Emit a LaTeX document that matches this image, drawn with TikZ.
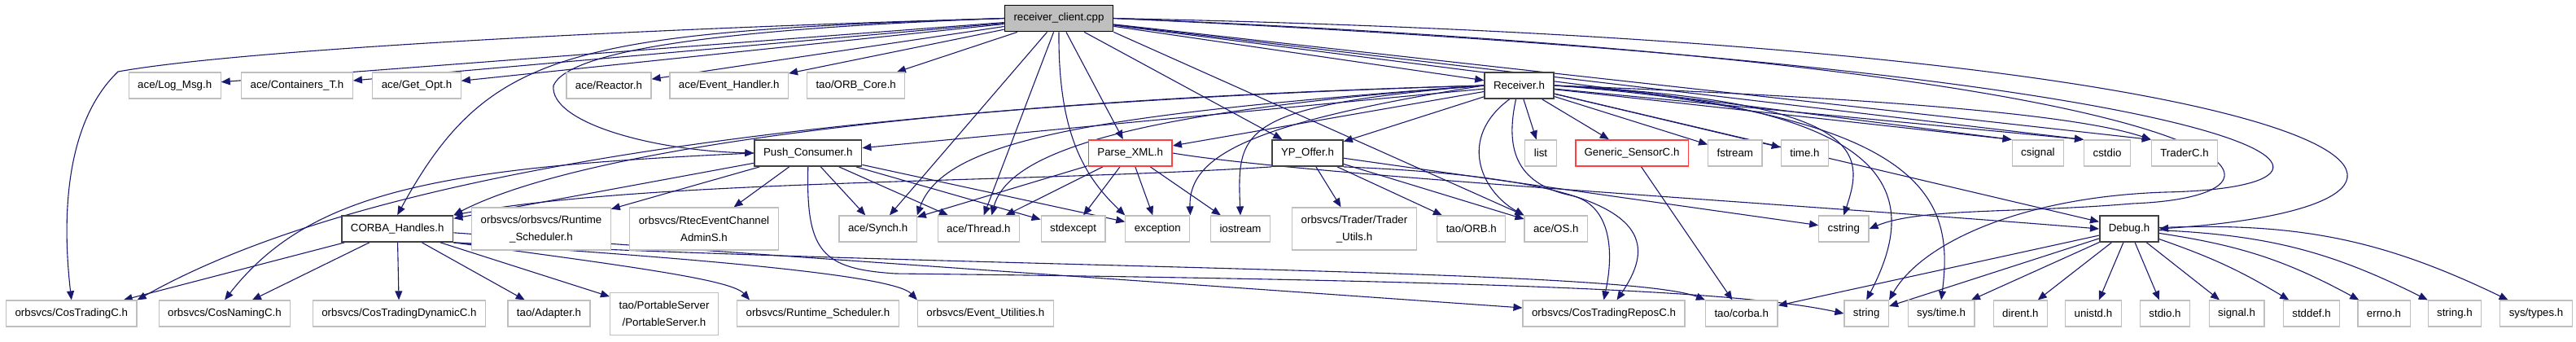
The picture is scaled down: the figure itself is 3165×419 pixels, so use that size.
\documentclass[tikz,border=0pt]{standalone}
\usepackage{fontspec}
\setmainfont{Liberation Sans}
\usetikzlibrary{arrows.meta,backgrounds}
\definecolor{figBleuNuit}{RGB}{25,25,112}
\definecolor{figGris}{RGB}{191,191,191}
\definecolor{figRouge}{RGB}{255,64,64}
\definecolor{figNoir}{RGB}{64,64,64}

\begin{document}
\begin{tikzpicture}[
  x=0.5pt, y=-0.5pt, every node/.style={font=\fontsize{6.65}{10.5}\selectfont},
  fic/.style={draw=figGris, line width=0.6pt, fill=white, minimum height=16pt,
              inner xsep=5.5pt, inner ysep=0pt},
  ficdeux/.style={fic, align=center, minimum height=26pt},
  ficnoir/.style={fic, draw=figNoir, line width=0.9pt},
  ficrouge/.style={fic, draw=figRouge, line width=0.9pt},
  ficsrc/.style={fic, draw=black, line width=0.9pt, fill=figGris},
  lien/.style={draw=figBleuNuit, line width=0.55pt, -{Triangle[length=5.5pt,width=4.5pt]}}
]
\useasboundingbox (0,0) rectangle (3165,419);

% fichier source
\node[ficsrc] (rc) at (1301,22.5) {receiver\_client.cpp};

% rang 1
\node[fic] (logmsg) at (214.7,105) {ace/Log\_Msg.h};
\node[fic] (containers) at (365,105) {ace/Containers\_T.h};
\node[fic] (getopt) at (512,105) {ace/Get\_Opt.h};
\node[fic] (reactor) at (748,105) {ace/Reactor.h};
\node[fic] (evhandler) at (895.7,105) {ace/Event\_Handler.h};
\node[fic] (orbcore) at (1051.7,105) {tao/ORB\_Core.h};
\node[ficnoir] (receiver) at (1866.5,105) {Receiver.h};

% rang 2
\node[ficnoir] (pushcons) at (992.8,188) {Push\_Consumer.h};
\node[ficrouge] (parsexml) at (1388.7,188) {Parse\_XML.h};
\node[ficnoir] (ypoffer) at (1606.5,188) {YP\_Offer.h};
\node[fic] (list) at (1893,188) {list};
\node[ficrouge] (gensensor) at (2005,188) {Generic\_SensorC.h};
\node[fic] (fstream) at (2131.8,188) {fstream};
\node[fic] (timeh) at (2217.4,188) {time.h};
\node[fic] (csignal) at (2503.9,188) {csignal};
\node[fic] (cstdio) at (2589,188) {cstdio};
\node[fic] (traderc) at (2684,188) {TraderC.h};

% rang 3
\node[ficnoir] (handles) at (488.2,281) {CORBA\_Handles.h};
\node[ficdeux] (rtschedA) at (665,281) {orbsvcs/orbsvcs/Runtime\\\_Scheduler.h};
\node[ficdeux] (rtec) at (865,281) {orbsvcs/RtecEventChannel\\AdminS.h};
\node[fic] (synch) at (1078.6,281) {ace/Synch.h};
\node[fic] (thread) at (1202.4,281) {ace/Thread.h};
\node[fic] (stdexcept) at (1318.6,281) {stdexcept};
\node[fic] (exception) at (1422.3,281) {exception};
\node[fic] (iostream) at (1524,281) {iostream};
\node[ficdeux] (traderutils) at (1664,281) {orbsvcs/Trader/Trader\\\_Utils.h};
\node[fic] (taoorb) at (1807.8,281) {tao/ORB.h};
\node[fic] (aceos) at (1911.8,281) {ace/OS.h};
\node[fic] (cstring) at (2265.3,281) {cstring};
\node[ficnoir] (debug) at (2616,281) {Debug.h};

% rang 4
\node[fic] (costrading) at (87.8,385) {orbsvcs/CosTradingC.h};
\node[fic] (cosnaming) at (276,385) {orbsvcs/CosNamingC.h};
\node[fic] (costrdyn) at (490.4,385) {orbsvcs/CosTradingDynamicC.h};
\node[fic] (adapter) at (674.5,385) {tao/Adapter.h};
\node[ficdeux] (portserver) at (816,385.5) {tao/PortableServer\\/PortableServer.h};
\node[fic] (rtschedB) at (1005,385) {orbsvcs/Runtime\_Scheduler.h};
\node[fic] (evutil) at (1210.9,385) {orbsvcs/Event\_Utilities.h};
\node[fic] (costrrepos) at (1970.5,385) {orbsvcs/CosTradingReposC.h};
\node[fic] (taocorba) at (2139.8,385) {tao/corba.h};
\node[fic] (string) at (2293.2,385) {string};
\node[fic] (systime) at (2385.1,385) {sys/time.h};
\node[fic] (dirent) at (2482.4,385) {dirent.h};
\node[fic] (unistd) at (2571.9,385) {unistd.h};
\node[fic] (stdioh) at (2660,385) {stdio.h};
\node[fic] (signalh) at (2748.1,385) {signal.h};
\node[fic] (stddefh) at (2840,385) {stddef.h};
\node[fic] (errnoh) at (2929,385) {errno.h};
\node[fic] (stringh) at (3015.9,385) {string.h};
\node[fic] (systypes) at (3116,385) {sys/types.h};

\begin{scope}[on background layer]
% depuis receiver_client.cpp
\draw[lien] (rc.west) .. controls (800,35) and (300,60) .. (145,88)
            .. controls (70,160) and (80,300) .. (costrading.north);
\draw[lien] (rc) -- (logmsg);
\draw[lien] (rc) -- (containers);
\draw[lien] (rc) -- (getopt);
\draw[lien] (rc.west) .. controls (900,35) and (700,60) .. (680,105)
            .. controls (675,150) and (800,185) .. (pushcons.west);
\draw[lien] (rc.west) .. controls (700,40) and (600,60) .. (handles.north);
\draw[lien] (rc) -- (reactor);
\draw[lien] (rc) -- (evhandler);
\draw[lien] (rc) -- (orbcore);
\draw[lien] (rc) -- (synch);
\draw[lien] (rc) -- (thread);
\draw[lien] (rc.south) .. controls (1300,160) and (1330,215) .. (exception.north west);
\draw[lien] (rc) -- (parsexml);
\draw[lien] (rc) -- (ypoffer);
\draw[lien] (rc) -- (receiver);
\draw[lien] (rc.south east) -- (aceos.north west);
\draw[lien] (rc) -- (csignal.north west);
\draw[lien] (rc) -- (cstdio.north west);
\draw[lien] (rc) -- (traderc.north west);
\draw[lien] (rc.east) .. controls (2950,55) and (3120,250) .. (debug.east);
\draw[lien] (rc.east) .. controls (2780,80) and (2880,240) .. (2620,250)
            .. controls (2480,262) and (2360,255) .. (cstring.east);
\draw[lien] (rc.east) .. controls (2840,90) and (2960,230) .. (2660,236)
            .. controls (2480,242) and (2360,300) .. (string.north east);

% depuis Receiver.h
\draw[lien] (receiver) -- (pushcons);
\draw[lien] (receiver) -- (parsexml);
\draw[lien] (receiver) -- (ypoffer);
\draw[lien] (receiver.west) .. controls (1100,125) and (700,190) .. (handles.north east);
\draw[lien] (receiver.west) .. controls (1000,130) and (450,210) .. (costrading.north east);
\draw[lien] (receiver.west) .. controls (1350,140) and (1160,170) .. (synch.north east);
\draw[lien] (receiver.west) .. controls (1420,135) and (1240,180) .. ([xshift=8pt]thread.north);
\draw[lien] (receiver.west) .. controls (1540,150) and (1460,190) .. (exception.north east);
\draw[lien] (receiver.west) .. controls (1520,130) and (1520,160) .. (iostream.north);
\draw[lien] ([xshift=-6pt]receiver.south) .. controls (1790,170) and (1820,235) .. (aceos.north west);
\draw[lien] ([xshift=-2pt]receiver.south) .. controls (1850,180) and (1860,225) .. (1930,240)
            .. controls (1975,250) and (1985,300) .. (costrrepos.north);
\draw[lien] (receiver) -- (list);
\draw[lien] (receiver) -- (gensensor);
\draw[lien] (receiver) -- (fstream);
\draw[lien] (receiver) -- (timeh);
\draw[lien] (receiver.east) .. controls (2300,125) and (2290,190) .. (cstring.north);
\draw[lien] (receiver.east) .. controls (2340,130) and (2360,240) .. (string.north);
\draw[lien] (receiver.east) .. controls (2380,140) and (2400,250) .. (systime.north);
\draw[lien] (receiver) -- (csignal.north west);
\draw[lien] (receiver) -- (cstdio.north west);
\draw[lien] (receiver.east) .. controls (2300,120) and (2550,140) .. (traderc.north west);
\draw[lien] (receiver) -- (debug);

% depuis Push_Consumer.h
\draw[lien] (pushcons) -- (handles);
\draw[lien] (pushcons.west) .. controls (540,205) and (380,235) .. (cosnaming.north);
\draw[lien] (pushcons) -- (rtschedA);
\draw[lien] (pushcons) -- (rtec);
\draw[lien] (pushcons) -- (synch);
\draw[lien] (pushcons) -- (thread);
\draw[lien] (pushcons) -- (stdexcept);
\draw[lien] (pushcons) -- (exception);
\draw[lien] (pushcons.south) .. controls (990,310) and (1010,330) .. (1100,336)
            .. controls (1900,345) and (2150,360) .. (string.west);

% depuis Parse_XML.h
\draw[lien] (parsexml) -- (synch);
\draw[lien] (parsexml) -- (thread);
\draw[lien] (parsexml) -- (stdexcept);
\draw[lien] (parsexml) -- (exception);
\draw[lien] (parsexml) -- (iostream);
\draw[lien] (parsexml.east) .. controls (1600,215) and (2200,250) .. (debug.west);

% depuis YP_Offer.h
\draw[lien] (ypoffer.south west) .. controls (1250,225) and (800,220) .. (handles.north east);
\draw[lien] (ypoffer) -- (traderutils);
\draw[lien] (ypoffer) -- (taoorb);
\draw[lien] (ypoffer) -- (aceos);
\draw[lien] (ypoffer) -- (cstring);
\draw[lien] (ypoffer.south east) .. controls (2030,220) and (2040,290) .. ([xshift=8pt]costrrepos.north);

% depuis Generic_SensorC.h
\draw[lien] (gensensor) -- (taocorba);

% depuis CORBA_Handles.h
\draw[lien] (handles) -- (costrading);
\draw[lien] (handles) -- (cosnaming);
\draw[lien] (handles) -- (costrdyn);
\draw[lien] (handles) -- (adapter);
\draw[lien] (handles) -- (portserver);
\draw[lien] (handles.south east) .. controls (800,330) and (900,345) .. ([xshift=8pt]rtschedB.north west);
\draw[lien] (handles.south east) .. controls (900,320) and (1100,340) .. (evutil.north west);
\draw[lien] (handles) -- (costrrepos);
\draw[lien] (handles.south east) .. controls (1200,330) and (2000,330) .. (taocorba.north west);

% depuis Debug.h
\draw[lien] (debug) -- (taocorba);
\draw[lien] (debug) -- (string);
\draw[lien] (debug) -- (systime);
\draw[lien] (debug) -- (dirent);
\draw[lien] (debug) -- (unistd);
\draw[lien] (debug) -- (stdioh);
\draw[lien] (debug) -- (signalh);
\draw[lien] (debug) to[bend left=6] (stddefh);
\draw[lien] (debug) to[bend left=10] (errnoh);
\draw[lien] (debug) to[bend left=12] (stringh);
\draw[lien] (debug) to[bend left=14] (systypes);
\end{scope}
\end{tikzpicture}
\end{document}
